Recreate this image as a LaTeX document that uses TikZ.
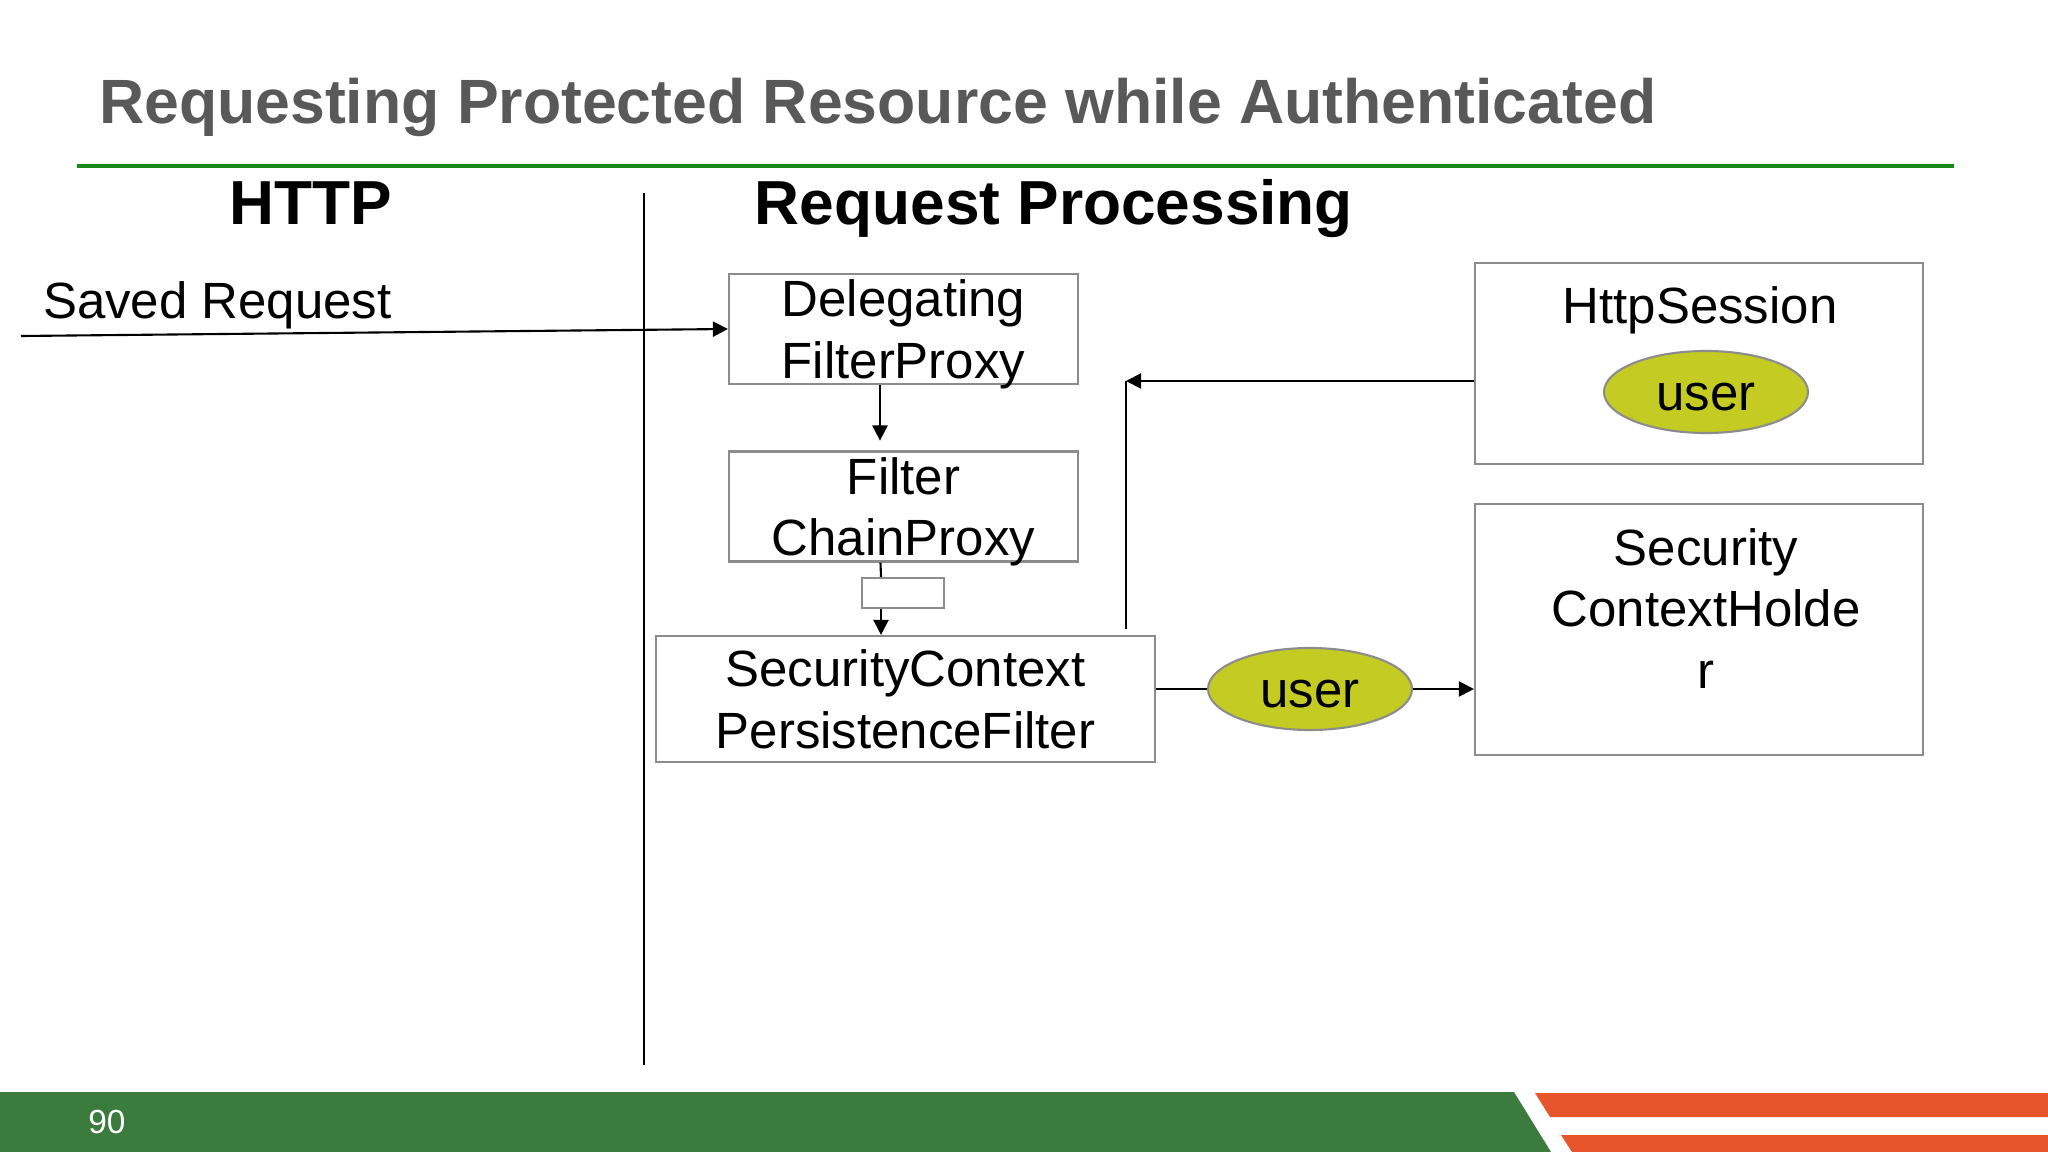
\documentclass[tikz,border=0pt]{standalone}
\usepackage{fontspec}
\setmainfont{Liberation Sans}
\usetikzlibrary{arrows.meta,shapes.geometric,positioning}

\definecolor{titlegray}{HTML}{595959}
\definecolor{rulegreen}{HTML}{168A16}
\definecolor{footgreen}{HTML}{3B7B3D}
\definecolor{footorange}{HTML}{E8542B}
\definecolor{usergreen}{HTML}{C4CC24}
\definecolor{boxgray}{HTML}{8C8C8C}

\begin{document}
\begin{tikzpicture}[->,>={Triangle[length=4.3pt,width=4.3pt]},line width=0.6pt,node distance=1.775cm]

    \tikzstyle{every node}=[font=\fontsize{14.5}{17.4}\selectfont,inner sep=0pt]
    \tikzstyle{heading}=[anchor=base,font=\fontsize{17.7}{21}\selectfont\bfseries]
    \tikzstyle{filterbox}=[draw=boxgray,minimum width=3.49cm,minimum height=1.1cm,align=center,text depth=-1.2pt]
    \tikzstyle{user}=[ellipse,fill=usergreen,draw=boxgray,minimum width=2.04cm,minimum height=0.82cm,text height=10.5pt]

    \useasboundingbox (0,0) rectangle (20.48,-11.52);

    % footer
    \fill[footgreen] (0,-10.92) -- (15.14,-10.92) -- (15.51,-11.52) -- (0,-11.52) -- cycle;
    \fill[footorange] (15.35,-10.93) -- (20.48,-10.93) -- (20.48,-11.17) -- (15.50,-11.17) -- cycle;
    \fill[footorange] (15.61,-11.35) -- (20.48,-11.35) -- (20.48,-11.52) -- (15.72,-11.52) -- cycle;
    \node[text=white,font=\fontsize{9.5}{11}\selectfont] (page) at (1.07,-11.22) {90};

    % title
    \node[anchor=base west,text=titlegray,font=\fontsize{17.8}{21}\selectfont\bfseries] (title) at (0.98,-1.24)
        {Requesting Protected Resource while Authenticated};
    \draw[-,rulegreen,line width=1.4pt] (0.77,-1.66) -- (19.54,-1.66);

    \node[heading] (http) at (3.11,-2.25) {HTTP};
    \node[heading] (proc) at (10.54,-2.25) {Request Processing};
    \draw[-] (6.44,-1.93) -- (6.44,-10.65);

    \node[anchor=base west] (saved) at (0.42,-3.19) {Saved Request};
    \coordinate (src) at (0.21,-3.36);

    \node[filterbox] (dfp) at (9.035,-3.29) {Delegating\\FilterProxy};
    \node[filterbox,below of=dfp] (fcp) {Filter\\ChainProxy};
    \node[draw=boxgray,minimum width=0.82cm,minimum height=0.30cm] (gap) at (9.03,-5.93) {};
    \node[filterbox,minimum width=4.99cm,minimum height=1.26cm] (scpf) at (9.055,-6.99)
        {SecurityContext\\PersistenceFilter};

    \node[filterbox,minimum width=4.48cm,minimum height=2.01cm] (sess) at (16.99,-3.635) {};
    \node[anchor=base] (sesstext) at (17.00,-3.24) {HttpSession};
    \node[user] (u1) at (17.06,-3.92) {user};

    \node[filterbox,minimum width=4.48cm,minimum height=2.51cm] (sch) at (16.99,-6.295) {};
    \node[align=center] (schtext) at (17.06,-6.085) {Security\\ContextHolde\\r};

    \node[user] (u2) at (13.10,-6.89) {user};

    \coordinate (ret) at (11.26,-3.81);
    \coordinate (retfoot) at (11.26,-6.29);

    \path (src) edge (dfp.west)
          ([xshift=-2.35mm]dfp.south) edge[shorten >=2.8pt] ([xshift=-2.35mm]fcp.north)
          ([xshift=-2.3mm]fcp.south) edge[-] ([xshift=-2.2mm]gap.north)
          ([xshift=-2.2mm]gap.south) edge ([xshift=-2.2mm]gap.south |- scpf.north)
          (scpf.east |- u2.west) edge[-] (u2.west)
          (u2.east) edge (sch.west |- u2.east)
          (sess.west |- ret) edge (ret)
          (retfoot) edge[-] (ret)
    ;
\end{tikzpicture}
\end{document}
